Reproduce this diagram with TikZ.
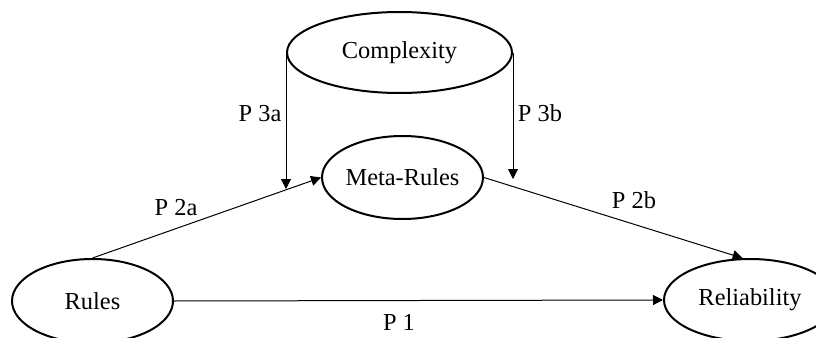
\documentclass[tikz,border=0pt]{standalone}
\usepackage{fontspec}
\setmainfont{Liberation Serif}
\usetikzlibrary{shapes.geometric,arrows.meta}
\begin{document}
\begin{tikzpicture}[x=0.5pt,y=-0.5pt,
    construct/.style={ellipse,draw,line width=1pt,inner xsep=-3pt,inner ysep=0pt},
    path/.style={-{Triangle[length=5pt,width=5pt]},line width=0.5pt},
    plabel/.style={inner sep=0pt}]
    \fontsize{12.2}{14.6}\selectfont
    \useasboundingbox (0,0) rectangle (816,338);
    % constructs
    \node[construct,minimum width=112.5pt,minimum height=40.5pt] (cmplx) at (399.5,52.5) {Complexity};
    \node[construct,minimum width=80.5pt,minimum height=41.5pt] (meta) at (402.5,177.5) {Meta-Rules};
    \node[construct,minimum width=80.5pt,minimum height=42pt] (rules) at (92.5,301) {Rules};
    \node[construct,minimum width=86pt,minimum height=41pt] (rel) at (750,300) {Reliability};
    % moderating ends
    \coordinate (p3aend) at (289,189);
    \coordinate (p3bend) at (512,179);
    % paths
    \draw[path] (rules.east) -- (rel.west);
    \draw[path] (rules.north) -- (meta.west);
    \draw[path] (meta.east) -- (rel.100);
    \draw[path] (cmplx.west) -- (cmplx.west |- p3aend);
    \draw[path] (cmplx.east) -- (cmplx.east |- p3bend);
    % labels
    \node[plabel] (lp1) at (399,322) {P 1};
    \node[plabel] (lp2a) at (176,208) {P 2a};
    \node[plabel] (lp2b) at (634,200) {P 2b};
    \node[plabel] (lp3a) at (260,114) {P 3a};
    \node[plabel] (lp3b) at (540,113) {P 3b};
\end{tikzpicture}
\end{document}
